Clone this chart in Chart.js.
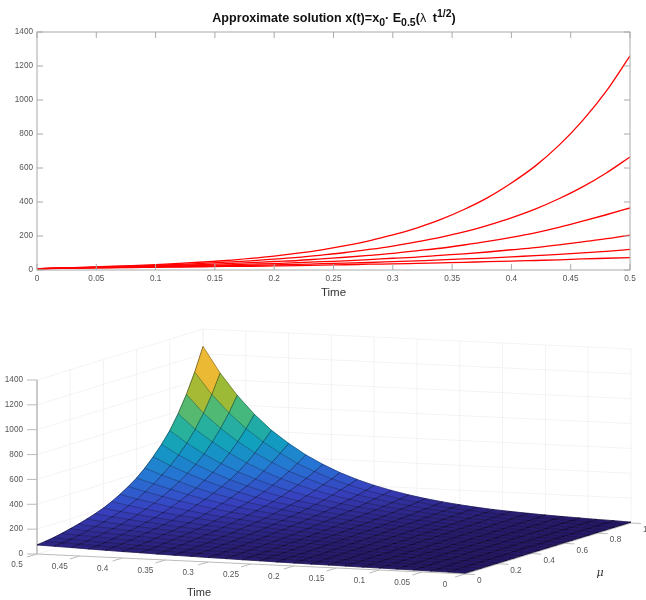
<!DOCTYPE html>
<html>
<head>
<meta charset="utf-8">
<style>
  html, body { margin: 0; background: #fff; overflow: hidden; }
  canvas { position: absolute; left: 0; filter: blur(0.35px); }
  #line-chart { top: 0; }
  #surface-chart { top: 300px; }
  #title {
    position: absolute; left: 0; top: 9px; width: 668px; text-align: center; z-index: 2;
    font: bold 12.6px "Liberation Sans", sans-serif; line-height: 18px; color: #111; white-space: nowrap;
  }
  #title sub, #title sup { font-size: 10.5px; line-height: 0; }
  #title .greek { font-weight: normal; padding-right: 3px; }
</style>
<script src="https://cdn.jsdelivr.net/npm/chart.js@4"></script>
</head>
<body>
<div id="title">Approximate solution x(t)=x<sub>0</sub>&#183; E<sub>0.5</sub>(<span class="greek">&#955;</span> t<sup>1/2</sup>)</div>
<canvas id="line-chart" width="646" height="300"></canvas>
<canvas id="surface-chart" width="646" height="300"></canvas>
<script>
const timeValues = [0, 0.02, 0.04, 0.06, 0.08, 0.1, 0.12, 0.14, 0.16, 0.18, 0.2, 0.22, 0.24, 0.26, 0.28, 0.3, 0.32, 0.34, 0.36, 0.38, 0.4, 0.42, 0.44, 0.46, 0.48, 0.5];
const muValues = [0, 0.05, 0.1, 0.15, 0.2, 0.25, 0.3, 0.35, 0.4, 0.45, 0.5, 0.55, 0.6, 0.65, 0.7, 0.75, 0.8, 0.85, 0.9, 0.95, 1];

// one row per mu, one column per time
const surfaceRows = [
  [7, 10, 11, 13, 14, 16, 17, 19, 21, 22, 24, 26, 29, 31, 34, 36, 39, 42, 45, 49, 52, 56, 60, 65, 69, 73],
  [7, 10, 11, 13, 15, 16, 18, 20, 21, 23, 25, 28, 30, 33, 36, 38, 42, 45, 48, 52, 56, 61, 65, 71, 76, 81],
  [7, 10, 12, 13, 15, 17, 18, 20, 22, 24, 27, 29, 32, 34, 38, 41, 44, 48, 52, 56, 61, 66, 71, 77, 84, 91],
  [7, 10, 12, 14, 15, 17, 19, 21, 23, 26, 28, 31, 34, 37, 41, 45, 49, 53, 58, 63, 69, 75, 81, 89, 96, 105],
  [7, 10, 12, 14, 16, 18, 20, 22, 25, 27, 30, 33, 37, 40, 44, 49, 54, 59, 65, 70, 77, 85, 92, 101, 110, 121],
  [7, 10, 12, 14, 16, 18, 21, 23, 26, 29, 32, 35, 39, 43, 48, 53, 59, 65, 71, 78, 86, 95, 104, 114, 125, 138],
  [7, 10, 12, 15, 17, 19, 22, 24, 27, 30, 34, 38, 42, 47, 52, 57, 64, 71, 78, 87, 95, 106, 117, 128, 142, 158],
  [7, 10, 12, 15, 17, 20, 22, 25, 28, 32, 36, 40, 45, 50, 56, 63, 70, 78, 86, 96, 106, 118, 132, 146, 162, 180],
  [7, 11, 13, 15, 18, 20, 23, 27, 30, 34, 38, 43, 49, 54, 61, 69, 76, 86, 95, 106, 119, 132, 148, 166, 184, 205],
  [7, 11, 13, 16, 18, 21, 24, 28, 32, 36, 40, 46, 52, 59, 66, 75, 84, 95, 106, 118, 134, 150, 168, 190, 211, 237],
  [7, 11, 13, 16, 19, 22, 26, 29, 33, 38, 43, 50, 56, 64, 72, 82, 92, 104, 118, 132, 150, 170, 191, 218, 243, 275],
  [7, 11, 14, 16, 19, 23, 27, 31, 35, 40, 46, 53, 61, 69, 79, 90, 102, 115, 132, 150, 171, 195, 219, 250, 282, 317],
  [7, 11, 14, 17, 20, 24, 28, 32, 37, 43, 50, 56, 66, 75, 86, 98, 113, 128, 147, 168, 192, 219, 251, 287, 325, 365],
  [7, 11, 14, 17, 20, 24, 29, 33, 39, 45, 53, 60, 70, 81, 93, 107, 123, 142, 163, 187, 216, 248, 284, 329, 375, 425],
  [7, 11, 14, 18, 21, 25, 30, 35, 41, 48, 56, 65, 75, 88, 101, 117, 135, 157, 180, 209, 242, 280, 325, 375, 430, 495],
  [7, 11, 15, 18, 22, 26, 31, 37, 43, 51, 60, 69, 81, 95, 111, 128, 149, 172, 200, 233, 272, 316, 368, 427, 495, 574],
  [7, 12, 15, 19, 23, 27, 33, 39, 46, 54, 64, 74, 88, 103, 121, 141, 165, 192, 224, 263, 307, 358, 419, 489, 571, 665],
  [7, 12, 15, 19, 23, 28, 34, 41, 48, 57, 68, 80, 95, 112, 132, 155, 183, 215, 252, 297, 350, 410, 482, 566, 662, 780],
  [7, 12, 16, 20, 24, 29, 35, 43, 51, 61, 72, 86, 103, 121, 145, 170, 204, 240, 285, 335, 400, 470, 555, 655, 770, 915],
  [7, 12, 16, 20, 25, 30, 37, 45, 53, 64, 77, 92, 111, 131, 158, 187, 224, 267, 319, 378, 453, 538, 638, 759, 900, 1074],
  [7, 12, 16, 21, 26, 32, 39, 47, 56, 68, 82, 99, 119, 143, 172, 206, 247, 296, 356, 426, 512, 611, 733, 879, 1052, 1260]
];

const curveMus = [0, 0.2, 0.4, 0.6, 0.8, 1];
const timeTicks = [0, 0.05, 0.1, 0.15, 0.2, 0.25, 0.3, 0.35, 0.4, 0.45, 0.5];
const valueTicks = [0, 200, 400, 600, 800, 1000, 1200, 1400];
const muTicks = [0, 0.2, 0.4, 0.6, 0.8, 1];
const parula = ['#3e26a8', '#4752f4', '#2d87f7', '#12b1d6', '#37c897', '#abc739', '#fec338', '#f9fb14'];

const AXIS_COLOR = '#aaaaaa';
const WALL_COLOR = '#f3f3f3';
const LABEL_COLOR = '#555555';
const LABEL_FONT = '8.2px "Liberation Sans", sans-serif';

// --- top chart ---

const boxTicks = {
  id: 'boxTicks',
  afterDatasetsDraw(chart) {
    let { ctx, chartArea: a, scales } = chart;
    ctx.save();
    ctx.strokeStyle = AXIS_COLOR;
    ctx.lineWidth = 1;
    ctx.strokeRect(a.left, a.top, a.right - a.left, a.bottom - a.top);
    ctx.beginPath();
    timeTicks.forEach(v => {
      let x = scales.x.getPixelForValue(v);
      ctx.moveTo(x, a.bottom); ctx.lineTo(x, a.bottom - 6);
      ctx.moveTo(x, a.top); ctx.lineTo(x, a.top + 6);
    });
    valueTicks.forEach(v => {
      let y = scales.y.getPixelForValue(v);
      ctx.moveTo(a.left, y); ctx.lineTo(a.left + 6, y);
      ctx.moveTo(a.right, y); ctx.lineTo(a.right - 6, y);
    });
    ctx.stroke();
    ctx.restore();
  }
};

function noPadding(scale) {
  scale.paddingLeft = 0;
  scale.paddingRight = 0;
  scale.paddingTop = 0;
  scale.paddingBottom = 0;
}

new Chart(document.getElementById('line-chart').getContext('2d'), {
  type: 'line',
  data: {
    datasets: curveMus.map(mu => ({
      label: 'mu ' + mu,
      data: surfaceRows[muValues.indexOf(mu)].map((v, i) => ({ x: timeValues[i], y: v })),
      borderColor: '#ff0000',
      borderWidth: 1.3,
      pointRadius: 0,
      cubicInterpolationMode: 'monotone'
    }))
  },
  options: {
    responsive: false,
    animation: false,
    layout: { padding: { top: 32, right: 16 } },
    plugins: { legend: { display: false }, tooltip: { enabled: false } },
    scales: {
      x: {
        type: 'linear',
        min: 0,
        max: 0.5,
        afterBuildTicks: s => { s.ticks = timeTicks.map(v => ({ value: v })); },
        afterFit: s => { noPadding(s); s.height = 30; },
        grid: { display: false, drawTicks: false },
        border: { display: false },
        ticks: { padding: 4, maxRotation: 0, autoSkip: false, color: LABEL_COLOR, font: { family: 'Liberation Sans', size: 8.2 }, callback: v => String(v) },
        title: { display: true, text: 'Time', color: '#333', font: { family: 'Liberation Sans', size: 11.5 }, padding: 0 }
      },
      y: {
        min: 0,
        max: 1400,
        afterBuildTicks: s => { s.ticks = valueTicks.map(v => ({ value: v })); },
        afterFit: s => { noPadding(s); s.width = 37; },
        grid: { display: false, drawTicks: false },
        border: { display: false },
        ticks: { padding: 4, autoSkip: false, color: LABEL_COLOR, font: { family: 'Liberation Sans', size: 8.2 }, callback: v => String(v) }
      }
    }
  },
  plugins: [boxTicks]
});

// --- bottom chart: orthographic view, scales run in page pixels ---

const view = { x0: 465, y0: 574, tx: -856, ty: -40, mx: 166, my: -51, zy: -174 / 1400 };

function project(t, mu, z) {
  return {
    x: view.x0 + view.tx * t + view.mx * mu,
    y: view.y0 + view.ty * t + view.my * mu + view.zy * z
  };
}

function parulaColor(z, shade) {
  let f = Math.min(Math.max((z - 7) / (1260 - 7), 0), 1) * (parula.length - 1);
  let i = Math.min(Math.floor(f), parula.length - 2);
  let c = [1, 3, 5].map(p => {
    let a = parseInt(parula[i].substr(p, 2), 16);
    let b = parseInt(parula[i + 1].substr(p, 2), 16);
    return Math.round((a + (b - a) * (f - i)) * shade);
  });
  return 'rgb(' + c.join(',') + ')';
}

function segment(ctx, scales, p, q) {
  ctx.moveTo(scales.x.getPixelForValue(p.x), scales.y.getPixelForValue(p.y));
  ctx.lineTo(scales.x.getPixelForValue(q.x), scales.y.getPixelForValue(q.y));
}

const surfaceFill = {
  id: 'surfaceFill',
  beforeDatasetsDraw(chart) {
    let { ctx, scales } = chart;
    let tMax = timeValues[timeValues.length - 1];
    let muMax = muValues[muValues.length - 1];
    let zMax = valueTicks[valueTicks.length - 1];
    ctx.save();

    ctx.strokeStyle = WALL_COLOR;
    ctx.lineWidth = 1;
    ctx.beginPath();
    valueTicks.forEach(z => {
      segment(ctx, scales, project(tMax, 0, z), project(tMax, muMax, z));
      segment(ctx, scales, project(tMax, muMax, z), project(0, muMax, z));
    });
    muTicks.forEach(m => segment(ctx, scales, project(tMax, m, 0), project(tMax, m, zMax)));
    timeTicks.forEach(t => segment(ctx, scales, project(t, muMax, 0), project(t, muMax, zMax)));
    ctx.stroke();

    ctx.strokeStyle = '#bbbbbb';
    ctx.beginPath();
    segment(ctx, scales, project(tMax, 0, 0), project(0, 0, 0));
    segment(ctx, scales, project(0, 0, 0), project(0, muMax, 0));
    timeTicks.forEach(t => {
      let p = project(t, 0, 0);
      segment(ctx, scales, p, { x: p.x - 10, y: p.y + 3 });
    });
    muTicks.forEach(m => {
      let p = project(0, m, 0);
      segment(ctx, scales, p, { x: p.x + 10, y: p.y + 0.5 });
    });
    valueTicks.forEach(z => {
      let p = project(tMax, 0, z);
      segment(ctx, scales, p, { x: p.x - 10, y: p.y });
    });
    ctx.stroke();
    ctx.lineWidth = 1.5;
    ctx.beginPath();
    segment(ctx, scales, project(tMax, 0, 0), project(tMax, 0, zMax));
    ctx.stroke();

    ctx.lineWidth = 0.7;
    for (let i = timeValues.length - 2; i >= 0; i--) {
      for (let j = muValues.length - 2; j >= 0; j--) {
        let corners = [[j, i], [j, i + 1], [j + 1, i + 1], [j + 1, i]];
        let pts = corners.map(c => project(timeValues[c[1]], muValues[c[0]], surfaceRows[c[0]][c[1]]));
        let area = 0.5 * Math.abs((pts[2].x - pts[0].x) * (pts[3].y - pts[1].y) - (pts[3].x - pts[1].x) * (pts[2].y - pts[0].y));
        let meanZ = corners.reduce((sum, c) => sum + surfaceRows[c[0]][c[1]], 0) / 4;
        let color = parulaColor(meanZ, area / (area + 35));
        ctx.fillStyle = color;
        ctx.strokeStyle = color;
        ctx.beginPath();
        pts.forEach((p, k) => {
          let px = scales.x.getPixelForValue(p.x);
          let py = scales.y.getPixelForValue(p.y);
          if (k === 0) ctx.moveTo(px, py); else ctx.lineTo(px, py);
        });
        ctx.closePath();
        ctx.fill();
        ctx.stroke();
      }
    }
    ctx.restore();
  },
  afterDraw(chart) {
    let { ctx, scales } = chart;
    let tMax = timeValues[timeValues.length - 1];
    let put = (text, x, y) => ctx.fillText(text, scales.x.getPixelForValue(x), scales.y.getPixelForValue(y));
    ctx.save();
    ctx.fillStyle = LABEL_COLOR;
    ctx.font = LABEL_FONT;
    ctx.textBaseline = 'middle';
    ctx.textAlign = 'center';
    timeTicks.forEach(t => {
      let p = project(t, 0, 0);
      put(String(t), p.x - 20, p.y + 10.5);
    });
    ctx.textAlign = 'left';
    muTicks.forEach(m => {
      let p = project(0, m, 0);
      put(String(m), p.x + 12, p.y + 7);
    });
    ctx.textAlign = 'right';
    valueTicks.forEach(z => {
      let p = project(tMax, 0, z);
      put(String(z), p.x - 14, p.y);
    });
    ctx.fillStyle = '#333';
    ctx.textAlign = 'center';
    ctx.font = '11px "Liberation Sans", sans-serif';
    put('Time', 199, 593);
    ctx.font = 'italic 11px "DejaVu Serif", serif';
    put('\u03bc', 600, 573);
    ctx.restore();
  }
};

function meshDataset(points, alpha) {
  return {
    data: points,
    showLine: true,
    pointRadius: 0,
    borderColor: 'rgba(0, 0, 0, ' + alpha + ')',
    borderWidth: 0.7,
    clip: false
  };
}

let timeLines = timeValues.map((t, i) => meshDataset(muValues.map((m, j) => project(t, m, surfaceRows[j][i])), 0.6));
let muLines = muValues.map((m, j) => meshDataset(timeValues.map((t, i) => project(t, m, surfaceRows[j][i])), 0.4));

new Chart(document.getElementById('surface-chart').getContext('2d'), {
  type: 'scatter',
  data: { datasets: timeLines.concat(muLines) },
  options: {
    responsive: false,
    animation: false,
    plugins: { legend: { display: false }, tooltip: { enabled: false } },
    scales: {
      x: { type: 'linear', display: false, min: 0, max: 646 },
      y: { type: 'linear', display: false, min: 300, max: 600, reverse: true }
    }
  },
  plugins: [surfaceFill]
});
</script>
</body>
</html>
